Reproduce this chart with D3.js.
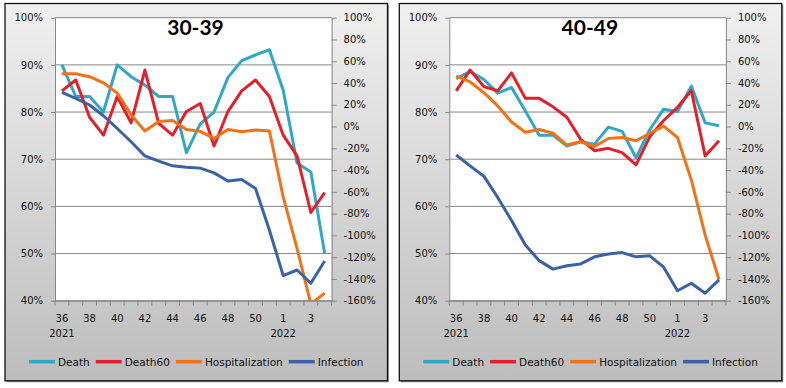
<!DOCTYPE html>
<html>
<head>
<meta charset="utf-8">
<script src="https://cdnjs.cloudflare.com/ajax/libs/d3/7.8.5/d3.min.js"></script>
<style>
  body { margin: 0; background: #fff; }
  text { font-family: "DejaVu Sans", Verdana, sans-serif; }
</style>
</head>
<body>
<div id="chart"></div>
<script>
// week categories (week 52 is not in the source sheet)
const weeks = ["36","37","38","39","40","41","42","43","44","45","46","47","48","49","50","51","1","2","3","4"];
const yearLabels = [["36", "2021"], ["1", "2022"]];
const seriesNames = ["Death", "Death60", "Hospitalization", "Infection"];
const seriesColors = ["#2fa8c6", "#e3202a", "#f47216", "#3a62a7"];
const leftTicks = [40, 50, 60, 70, 80, 90, 100];
const rightTicks = [-160, -140, -120, -100, -80, -60, -40, -20, 0, 20, 40, 60, 80, 100];

// 30-39 (left axis %, infection on right axis %)
const death3039 = [90, 83.3, 83.3, 80, 90, 87.5, 85.7, 83.3, 83.3, 71.4, 77.5, 80, 87.3, 90.9, 92.1, 93.2, 84.6, 69.2, 67.3, 50];
const death60_3039 = [84.5, 86.8, 78.9, 75.1, 83.3, 77.7, 88.9, 77.6, 75.1, 80.1, 81.8, 72.8, 80.1, 84.5, 86.8, 83.3, 75.1, 70.7, 58.7, 62.9];
const hosp3039 = [88.1, 88.1, 87.5, 86.2, 84, 79.4, 76, 78, 78.2, 76.3, 75.9, 74.4, 76.3, 75.8, 76.2, 76, 62, 51.1, 39.3, 41.6];
const infection3039 = [31.5, 25.9, 19.8, 9.9, -1.8, -14, -27, -31.7, -36.1, -37.4, -38.2, -42.6, -50, -48.6, -56.9, -95, -137, -131.8, -144, -123.6];

// 40-49
const death4049 = [87.1, 88.6, 86.9, 84, 85.2, 80.2, 75.1, 75.1, 72.8, 73.7, 73.2, 76.8, 75.9, 70.3, 76.3, 80.6, 80.1, 85.5, 77.7, 77.1];
const death60_4049 = [84.5, 88.9, 85.4, 84.5, 88.3, 82.9, 82.9, 81.1, 78.9, 74.2, 71.8, 72.3, 71.4, 68.8, 74.8, 78.2, 81, 84.5, 70.7, 73.9];
const hosp4049 = [87.6, 86.4, 84.1, 81.3, 77.9, 75.7, 76.3, 75.5, 73, 73.7, 72.7, 74.4, 74.6, 73.9, 75.5, 77, 74.6, 65.6, 53.9, 44.5];
const infection4049 = [-26.1, -36.1, -45.6, -65.1, -86.3, -108.9, -123.2, -131, -127.9, -126.2, -119.7, -117.1, -115.8, -119.7, -118.8, -129.2, -150.9, -144, -153.1, -140.9];

const panels = [
  { title: "30-39", x0: 5, series: [death3039, death60_3039, hosp3039, infection3039] },
  { title: "40-49", x0: 399.3, series: [death4049, death60_4049, hosp4049, infection4049] }
];

const W = 786, H = 388;
const boxW = 382.5, boxTop = 3.5, boxH = 377.3;
const plotL = 50, plotW = 276.6, plotTop = 17.7, plotBot = 300.7;

const svg = d3.select("#chart").append("svg")
  .attr("width", W)
  .attr("height", H);

const defs = svg.append("defs");
const grad = defs.append("linearGradient")
  .attr("id", "bg")
  .attr("x1", 0).attr("y1", 0).attr("x2", 0).attr("y2", 1);
grad.append("stop").attr("offset", "0%").attr("stop-color", "#f0f0f0");
grad.append("stop").attr("offset", "100%").attr("stop-color", "#bdbdbd");

defs.append("clipPath").attr("id", "plotclip")
  .append("rect")
  .attr("x", plotL).attr("y", plotTop)
  .attr("width", plotW).attr("height", plotBot - plotTop);

const x = d3.scaleBand().domain(weeks).range([plotL, plotL + plotW]).padding(0);
const yL = d3.scaleLinear().domain([40, 100]).range([plotBot, plotTop]);
const yR = d3.scaleLinear().domain([-160, 100]).range([plotBot, plotTop]);
const cx = (i) => x(weeks[i]) + x.bandwidth() / 2;

panels.forEach(function (p) {
  const g = svg.append("g").attr("transform", "translate(" + p.x0 + ",0)");

  // panel box
  g.append("rect")
    .attr("x", 1.5).attr("y", boxTop + 1.5)
    .attr("width", boxW).attr("height", boxH)
    .style("fill", "#9a9a9a");
  g.append("rect")
    .attr("x", 0).attr("y", boxTop)
    .attr("width", boxW).attr("height", boxH)
    .style("fill", "url(#bg)")
    .style("stroke", "#111")
    .style("stroke-width", 1.3);

  // plot area
  g.append("rect")
    .attr("x", plotL).attr("y", plotTop)
    .attr("width", plotW).attr("height", plotBot - plotTop)
    .style("fill", "#fff");

  g.selectAll("line.grid")
    .data(leftTicks)
    .enter().append("line")
    .attr("class", "grid")
    .attr("x1", plotL).attr("x2", plotL + plotW)
    .attr("y1", d => yL(d)).attr("y2", d => yL(d))
    .style("stroke", "#878787")
    .style("stroke-width", 1);

  // left axis
  const axL = g.append("g")
    .attr("transform", "translate(" + plotL + ",0)")
    .call(d3.axisLeft(yL).tickValues(leftTicks).tickFormat(d => d + "%").tickSize(4).tickSizeOuter(0).tickPadding(8));

  // right axis
  const axR = g.append("g")
    .attr("transform", "translate(" + (plotL + plotW) + ",0)")
    .call(d3.axisRight(yR).tickValues(rightTicks).tickFormat(d => d + "%").tickSize(5).tickSizeOuter(0).tickPadding(7));

  // bottom axis: labels every 2nd week, ticks between categories
  const axB = g.append("g")
    .attr("transform", "translate(0," + plotBot + ")")
    .call(d3.axisBottom(x).tickValues(weeks.filter((d, i) => i % 2 === 0)).tickSize(0).tickSizeOuter(0).tickPadding(14.3));

  g.selectAll("line.xtick")
    .data(d3.range(weeks.length + 1))
    .enter().append("line")
    .attr("class", "xtick")
    .attr("x1", i => plotL + i * x.step()).attr("x2", i => plotL + i * x.step())
    .attr("y1", plotBot).attr("y2", plotBot + 5)
    .style("stroke", "#878787");

  [axL, axR, axB].forEach(function (a) {
    a.selectAll("path.domain").style("stroke", "#878787");
    a.selectAll(".tick line").style("stroke", "#878787");
    a.selectAll("text")
      .style("font-family", "'DejaVu Sans', Verdana, sans-serif")
      .style("font-size", "10px")
      .style("fill", "#111");
  });

  g.selectAll("text.year")
    .data(yearLabels)
    .enter().append("text")
    .attr("class", "year")
    .attr("x", d => x(d[0]) + x.bandwidth() / 2)
    .attr("y", 336.7)
    .attr("text-anchor", "middle")
    .style("font-size", "10px")
    .style("fill", "#111")
    .text(d => d[1]);

  // series lines
  const lineL = d3.line().x((d, i) => cx(i)).y(d => yL(d));
  const lineR = d3.line().x((d, i) => cx(i)).y(d => yR(d));
  const lines = g.append("g").attr("clip-path", "url(#plotclip)");
  p.series.forEach(function (vals, s) {
    lines.append("path")
      .datum(vals)
      .attr("d", s === 3 ? lineR : lineL)
      .style("fill", "none")
      .style("stroke", seriesColors[s])
      .style("stroke-width", 3)
      .style("stroke-linejoin", "round");
  });

  // title
  g.append("text")
    .attr("x", 190.5)
    .attr("y", 35)
    .attr("text-anchor", "middle")
    .style("font-family", "Lato, 'Liberation Sans', sans-serif")
    .style("font-weight", "bold")
    .style("font-size", "21px")
    .style("fill", "#000")
    .text(p.title);

  // legend
  let lx = 24;
  seriesNames.forEach(function (name, s) {
    g.append("line")
      .attr("x1", lx).attr("x2", lx + 26)
      .attr("y1", 361.7).attr("y2", 361.7)
      .style("stroke", seriesColors[s])
      .style("stroke-width", 3.5);
    const t = g.append("text")
      .attr("x", lx + 29)
      .attr("y", 365.5)
      .style("font-size", "10.5px")
      .style("fill", "#111")
      .text(name);
    lx += 29 + t.node().getComputedTextLength() + 6;
  });
});
</script>
</body>
</html>
